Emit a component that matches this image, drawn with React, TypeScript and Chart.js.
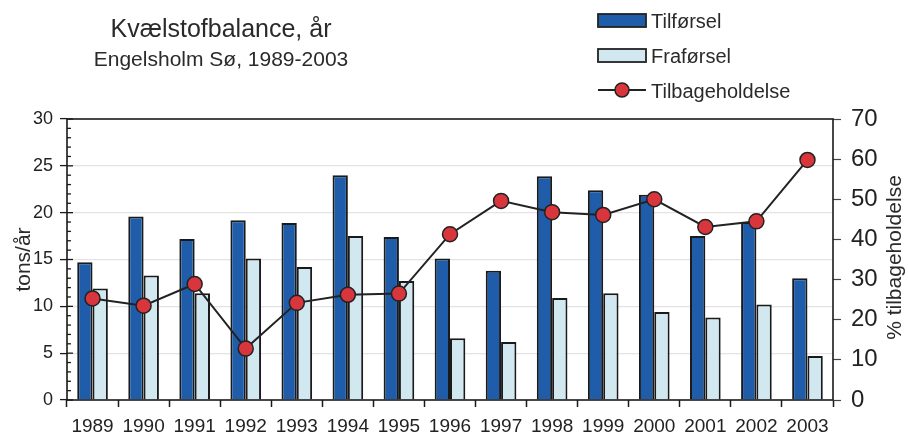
import React, { useEffect, useRef } from "react";
import { Chart, registerables } from "chart.js";

Chart.register(...registerables);

const years = ["1989","1990","1991","1992","1993","1994","1995","1996","1997","1998","1999","2000","2001","2002","2003"];
const tilforsel = [14.7, 19.6, 17.2, 19.2, 18.9, 24.0, 17.4, 15.1, 13.8, 23.9, 22.4, 21.9, 17.5, 19.0, 13.0];
const fraforsel = [11.9, 13.3, 11.4, 15.1, 14.2, 17.5, 12.7, 6.6, 6.2, 10.9, 11.4, 9.4, 8.8, 10.2, 4.7];
const tilbageholdelse = [25.3, 23.5, 28.9, 12.8, 24.2, 26.2, 26.5, 41.3, 49.6, 46.8, 46.1, 50.0, 43.1, 44.5, 59.8];

const titleText = "Kvælstofbalance, år";
const subtitleText = "Engelsholm Sø, 1989-2003";
const leftAxisTitle = "tons/år";
const rightAxisTitle = "% tilbageholdelse";

const DARK = "#1f5ca9";
const LIGHT = "#d2e8f1";
const RED = "#d8363c";
const FONT = "'Liberation Sans', Arial, sans-serif";

const decorPlugin = {
  id: "decor",
  afterDraw(chart: any) {
    const ctx = chart.ctx;
    const ca = chart.chartArea;
    const y = chart.scales.y;
    ctx.save();
    // frame
    ctx.strokeStyle = "#1a1a1a";
    ctx.lineWidth = 1.6;
    ctx.strokeRect(ca.left, ca.top, ca.right - ca.left, ca.bottom - ca.top);
    // minor/major ticks on left axis
    ctx.lineWidth = 1.3;
    for (let v = 0; v <= 30; v++) {
      const py = y.getPixelForValue(v);
      ctx.beginPath();
      ctx.moveTo(ca.left, py);
      ctx.lineTo(ca.left + (v % 5 === 0 ? 6 : 4), py);
      ctx.stroke();
    }
    // titles
    ctx.fillStyle = "#2a2a2a";
    ctx.textAlign = "center";
    ctx.textBaseline = "alphabetic";
    ctx.font = `25px ${FONT}`;
    ctx.fillText(titleText, 221, 37);
    ctx.font = `21px ${FONT}`;
    ctx.fillText(subtitleText, 221, 66);
    // axis titles
    const midY = (ca.top + ca.bottom) / 2;
    ctx.font = `21px ${FONT}`;
    ctx.textBaseline = "middle";
    ctx.save();
    ctx.translate(24, midY);
    ctx.rotate(-Math.PI / 2);
    ctx.fillText(leftAxisTitle, 0, 0);
    ctx.restore();
    ctx.save();
    ctx.translate(895, midY - 2);
    ctx.rotate(-Math.PI / 2);
    ctx.fillText(rightAxisTitle, 0, 0);
    ctx.restore();
    // legend
    const lx = 598, lw = 48, tx = 651;
    ctx.font = `20px ${FONT}`;
    ctx.textAlign = "left";
    ctx.textBaseline = "alphabetic";
    const items = chart.data.datasets;
    ctx.lineWidth = 1.8;
    ctx.strokeStyle = "#222";
    ctx.fillStyle = items[0].backgroundColor;
    ctx.fillRect(lx, 14, lw, 13);
    ctx.strokeRect(lx, 14, lw, 13);
    ctx.fillStyle = "#2a2a2a";
    ctx.fillText(items[0].label, tx, 28);
    ctx.fillStyle = items[1].backgroundColor;
    ctx.fillRect(lx, 49, lw, 13);
    ctx.strokeRect(lx, 49, lw, 13);
    ctx.fillStyle = "#2a2a2a";
    ctx.fillText(items[1].label, tx, 63);
    ctx.lineWidth = 2;
    ctx.beginPath();
    ctx.moveTo(lx, 90);
    ctx.lineTo(lx + lw, 90);
    ctx.stroke();
    ctx.beginPath();
    ctx.arc(lx + lw / 2, 90, 7, 0, Math.PI * 2);
    ctx.fillStyle = RED;
    ctx.fill();
    ctx.lineWidth = 1.5;
    ctx.stroke();
    ctx.fillStyle = "#2a2a2a";
    ctx.fillText(items[2].label, tx, 98);
    ctx.restore();
  },
};

export default function App() {
  const ref = useRef<HTMLCanvasElement | null>(null);
  useEffect(() => {
    if (!ref.current) return;
    const chart = new Chart(ref.current, {
      type: "bar",
      data: {
        labels: years,
        datasets: [
          {
            type: "bar",
            label: "Tilførsel",
            data: tilforsel,
            backgroundColor: DARK,
            borderColor: "#1a1a1a",
            borderWidth: 2,
            yAxisID: "y",
            order: 2,
            categoryPercentage: 0.6,
            barPercentage: 1.0,
          },
          {
            type: "bar",
            label: "Fraførsel",
            data: fraforsel,
            backgroundColor: LIGHT,
            borderColor: "#1a1a1a",
            borderWidth: 2,
            yAxisID: "y",
            order: 2,
            categoryPercentage: 0.6,
            barPercentage: 1.0,
          },
          {
            type: "line",
            label: "Tilbageholdelse",
            data: tilbageholdelse,
            borderColor: "#222",
            borderWidth: 2,
            backgroundColor: RED,
            pointBackgroundColor: RED,
            pointBorderColor: "#222",
            pointBorderWidth: 1.5,
            pointRadius: 7.5,
            tension: 0,
            yAxisID: "y1",
            order: 0,
          } as any,
        ],
      },
      options: {
        responsive: false,
        animation: false,
        layout: { padding: { top: 119, left: 0, right: 0, bottom: 0 } },
        plugins: { legend: { display: false }, title: { display: false }, tooltip: { enabled: false } },
        scales: {
          x: {
            offset: true,
            grid: {
              offset: true,
              drawOnChartArea: false,
              drawTicks: true,
              tickLength: 7,
              tickColor: "#1a1a1a",
              tickWidth: 1.5,
            },
            border: { display: false },
            ticks: {
              color: "#222",
              font: { family: FONT, size: 19 },
              padding: 8,
              maxRotation: 0,
              autoSkip: false,
            },
            afterFit(s: any) { s.height = 40; },
          },
          y: {
            position: "left",
            min: 0,
            max: 30,
            ticks: {
              stepSize: 5,
              color: "#222",
              font: { family: FONT, size: 18 },
              padding: 7,
            },
            grid: {
              color: (c: any) => (c.tick && c.tick.value > 0 && c.tick.value < 30 ? "#e3e3e3" : "transparent"),
              lineWidth: 1.2,
              tickColor: "#1a1a1a",
              tickLength: 7,
              tickWidth: 1.3,
            },
            border: { display: false },
            afterFit(s: any) { s.width = 67; },
          },
          y1: {
            position: "right",
            min: 0,
            max: 70,
            ticks: {
              stepSize: 10,
              color: "#222",
              font: { family: FONT, size: 24 },
              padding: 10,
            },
            grid: {
              drawOnChartArea: false,
              tickColor: "#444",
              tickLength: 8,
              tickWidth: 1.2,
            },
            border: { display: false },
            afterFit(s: any) { s.width = 75; },
          },
        },
      },
      plugins: [decorPlugin],
    });
    return () => chart.destroy();
  }, []);
  return (
    <div style={{ position: "fixed", left: 0, top: 0, width: 908, height: 440, background: "#fff" }}>
      <canvas ref={ref} width={908} height={440} />
    </div>
  );
}
